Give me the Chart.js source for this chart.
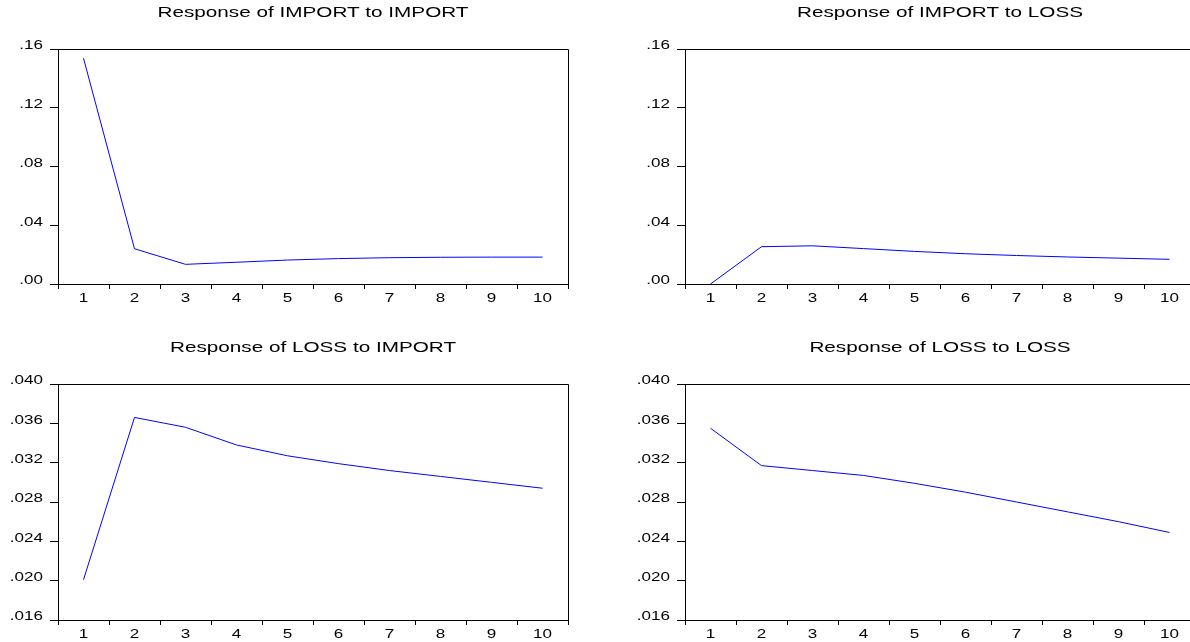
<!DOCTYPE html>
<html>
<head>
<meta charset="utf-8">
<script src="https://cdn.jsdelivr.net/npm/chart.js@4.4.1/dist/chart.umd.min.js"></script>
<style>
  html, body { margin: 0; padding: 0; background: #fff; }
  #wrap { position: relative; width: 1190px; height: 642px; overflow: hidden; background: #fff; }
  #wrap canvas { position: absolute; }
</style>
</head>
<body>
<div id="wrap">
  <canvas id="c1"></canvas>
  <canvas id="c2"></canvas>
  <canvas id="c3"></canvas>
  <canvas id="c4"></canvas>
</div>
<script>
// ---- data ----
const categories = ['1', '2', '3', '4', '5', '6', '7', '8', '9', '10'];

const importToImport = [0.1537, 0.0240, 0.0134, 0.0148, 0.0163, 0.0173, 0.0179, 0.0182, 0.0183, 0.0183];
const importToLoss   = [0.0000, 0.0254, 0.0260, 0.0241, 0.0222, 0.0206, 0.0194, 0.0184, 0.0176, 0.0168];
const lossToImport   = [0.0201, 0.0366, 0.0356, 0.0338, 0.0327, 0.0319, 0.0312, 0.0306, 0.0300, 0.0294];
const lossToLoss     = [0.0355, 0.0317, 0.0312, 0.0307, 0.0299, 0.0290, 0.0280, 0.0270, 0.0260, 0.0249];

const importTickValues = [0, 0.04, 0.08, 0.12, 0.16];
const importTickLabels = ['.00', '.04', '.08', '.12', '.16'];
const lossTickValues = [0.016, 0.020, 0.024, 0.028, 0.032, 0.036, 0.040];
const lossTickLabels = ['.016', '.020', '.024', '.028', '.032', '.036', '.040'];

const titles = [
  'Response of IMPORT to IMPORT',
  'Response of IMPORT to LOSS',
  'Response of LOSS to IMPORT',
  'Response of LOSS to LOSS'
];

// ---- drawing ----
const FONT = '"Liberation Sans", Arial, Helvetica, sans-serif';
const TEXT_STRETCH = 1.42;
const TITLE_STRETCH = 1.38;

function align(p) { return Math.round(p - 0.5) + 0.5; }

function eviewsPlugin(title, tickValues, tickLabels) {
  return {
    id: 'eviewsFrame',
    afterDraw(chart) {
      const ctx = chart.ctx;
      const a = chart.chartArea;
      const xs = chart.scales.x, ys = chart.scales.y;
      ctx.save();
      // top and right frame
      ctx.strokeStyle = '#000';
      ctx.lineWidth = 1;
      ctx.beginPath();
      ctx.moveTo(align(a.left), align(a.top));
      ctx.lineTo(align(a.right), align(a.top));
      ctx.lineTo(align(a.right), align(a.bottom));
      ctx.stroke();

      ctx.fillStyle = '#000';
      // title
      ctx.font = '15px ' + FONT;
      ctx.textAlign = 'center';
      ctx.textBaseline = 'middle';
      ctx.save();
      ctx.translate((a.left + a.right) / 2, a.top - 36);
      ctx.scale(TITLE_STRETCH, 1);
      ctx.fillText(title, 0, 0);
      ctx.restore();

      // x labels
      ctx.font = '12px ' + FONT;
      categories.forEach((c, i) => {
        const x = xs.getPixelForValue(i);
        ctx.save();
        ctx.translate(x, a.bottom + 15);
        ctx.scale(TEXT_STRETCH, 1);
        ctx.textAlign = 'center';
        ctx.fillText(c, 0, 0);
        ctx.restore();
      });
      // y labels
      tickValues.forEach((v, i) => {
        const y = ys.getPixelForValue(v);
        ctx.save();
        ctx.translate(a.left - 15, y - 3);
        ctx.scale(TEXT_STRETCH, 1);
        ctx.textAlign = 'right';
        ctx.fillText(tickLabels[i], 0, 0);
        ctx.restore();
      });
      ctx.restore();
    }
  };
}

function makeChart(id, title, values, tickValues, tickLabels, box) {
  const canvas = document.getElementById(id);
  canvas.width = box.w;
  canvas.height = box.h;
  canvas.style.left = box.x + 'px';
  canvas.style.top = box.y + 'px';
  canvas.style.width = box.w + 'px';
  canvas.style.height = box.h + 'px';
  return new Chart(canvas, {
    type: 'line',
    data: {
      labels: categories,
      datasets: [{
        data: values,
        borderColor: '#0000ff',
        borderWidth: 1,
        pointRadius: 0,
        tension: 0,
        fill: false
      }]
    },
    options: {
      responsive: false,
      maintainAspectRatio: false,
      animation: false,
      devicePixelRatio: 1,
      layout: { padding: { left: 0, right: box.w - box.right, top: box.top, bottom: 0 } },
      plugins: {
        legend: { display: false },
        tooltip: { enabled: false },
        title: { display: false }
      },
      scales: {
        x: {
          type: 'category',
          offset: true,
          grid: { offset: true, drawOnChartArea: false, drawTicks: true, tickLength: 5, color: '#000', lineWidth: 1 },
          border: { display: true, color: '#000', width: 1 },
          ticks: { display: false, autoSkip: false, maxRotation: 0 },
          afterFit: s => { s.height = box.h - box.bottom; }
        },
        y: {
          min: tickValues[0],
          max: tickValues[tickValues.length - 1],
          afterBuildTicks: s => { s.ticks = tickValues.map(v => ({ value: v })); },
          grid: { drawOnChartArea: false, drawTicks: true, tickLength: 8, color: '#000', lineWidth: 1 },
          border: { display: true, color: '#000', width: 1 },
          ticks: { display: false },
          afterFit: s => { s.width = box.left; }
        }
      }
    },
    plugins: [eviewsPlugin(title, tickValues, tickLabels)]
  });
}

makeChart('c1', titles[0], importToImport, importTickValues, importTickLabels,
  { x: 0, y: 0, w: 595, h: 320, left: 58, right: 568, top: 49, bottom: 284 });
makeChart('c2', titles[1], importToLoss, importTickValues, importTickLabels,
  { x: 595, y: 0, w: 620, h: 320, left: 90, right: 600, top: 49, bottom: 284 });
makeChart('c3', titles[2], lossToImport, lossTickValues, lossTickLabels,
  { x: 0, y: 320, w: 595, h: 322, left: 58, right: 568, top: 64, bottom: 300 });
makeChart('c4', titles[3], lossToLoss, lossTickValues, lossTickLabels,
  { x: 595, y: 320, w: 620, h: 322, left: 90, right: 600, top: 64, bottom: 300 });
</script>
</body>
</html>
